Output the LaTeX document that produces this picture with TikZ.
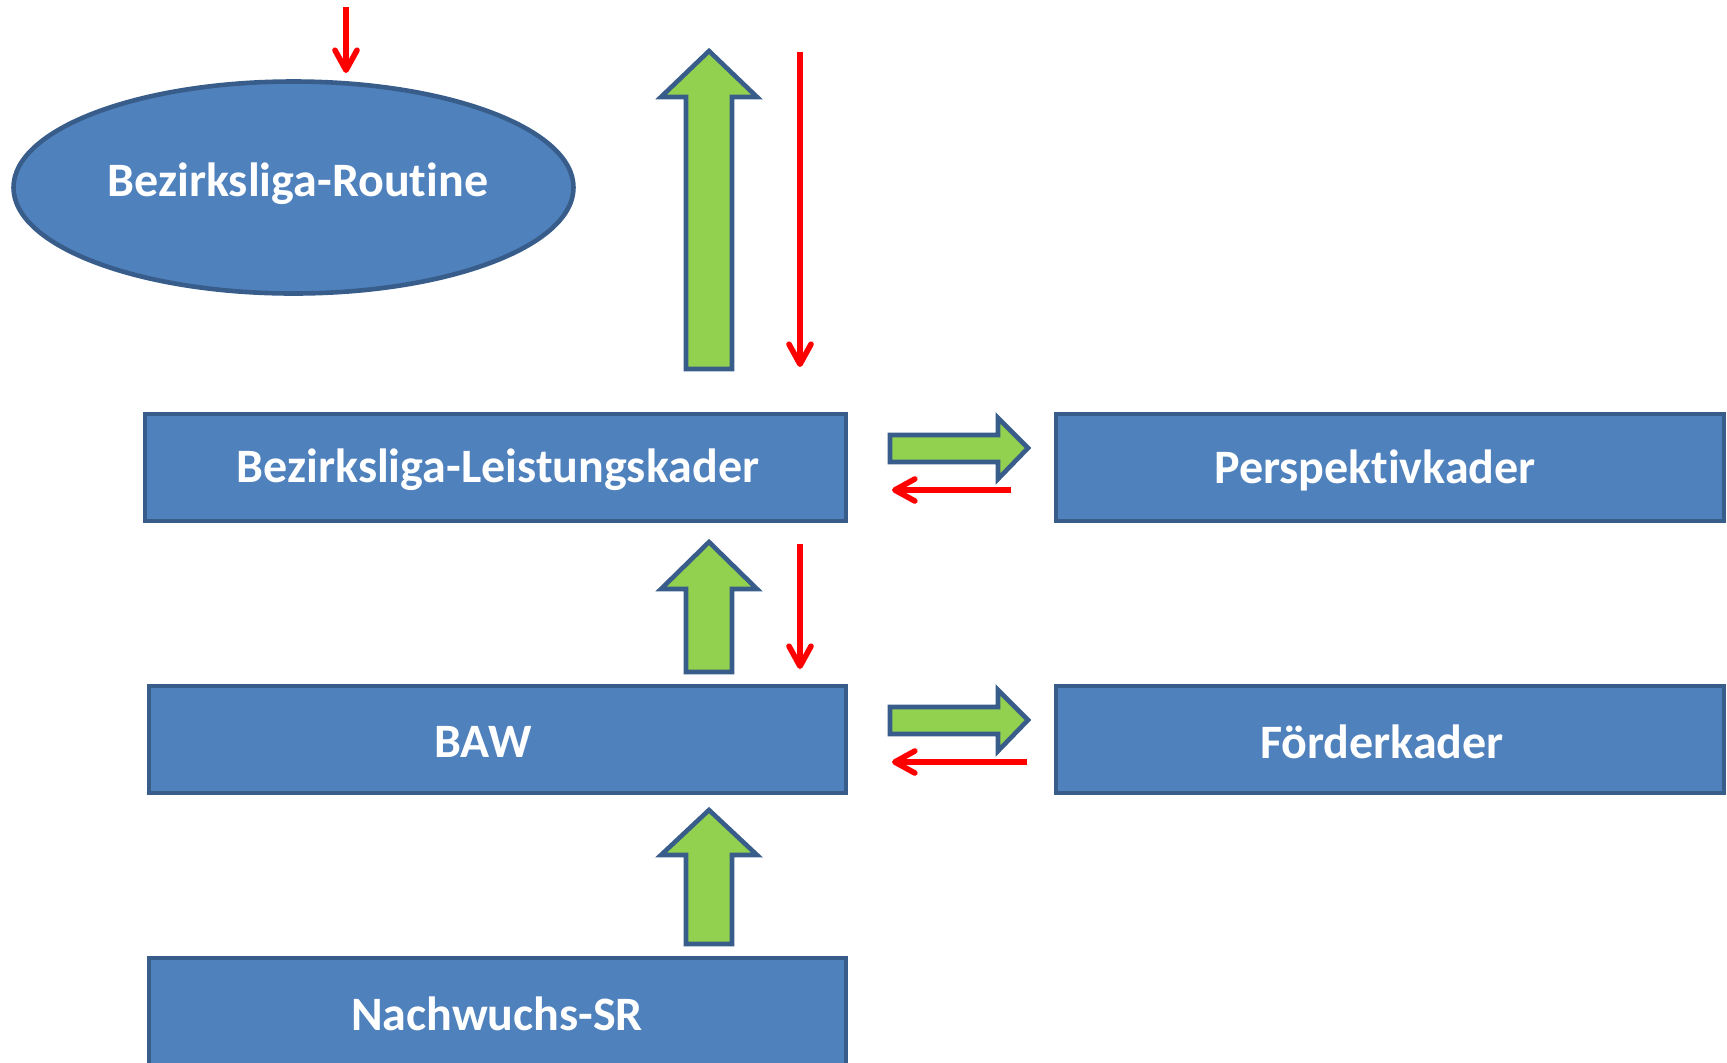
\documentclass[tikz,border=0pt]{standalone}
\usepackage{fontspec}
\setmainfont[Ligatures=NoCommon]{Carlito}
\usetikzlibrary{shapes.geometric,arrows.meta}
\definecolor{boxblue}{HTML}{4F81BD}
\definecolor{boxline}{HTML}{385D8A}
\definecolor{agreen}{HTML}{92D050}
\definecolor{ared}{HTML}{FF0000}
\tikzset{
  boxstyle/.style={draw=boxline, fill=boxblue, line width=2.3pt, text=white,
    font=\fontsize{24}{29}\selectfont\bfseries, inner sep=0pt, rectangle},
  boxtext/.style={text=white, font=\fontsize{24}{29}\selectfont\bfseries, inner sep=0pt},
  garrow/.style={draw=boxline, fill=agreen, line width=2.3pt, line join=miter},
  rarrow/.style={draw=ared, line width=2.8pt, -{Straight Barb[length=10pt,width=11pt,line width=2.8pt,round]}},
}
\newcommand\greenup[4]{%
  \draw[garrow] (#1-23,#2) -- (#1-23,#3) -- (#1-48,#3) -- (#1,#4) -- (#1+48,#3) -- (#1+23,#3) -- (#1+23,#2) -- cycle;}
\begin{document}
\begin{tikzpicture}[x=0.5pt,y=-0.5pt]
\useasboundingbox (0,0) rectangle (1727,1062);
% nodes
\node[boxstyle, ellipse, minimum width=280pt, minimum height=106pt] (routine) at (293.5,187.5) {};
\node[boxtext] (routinetxt) at (298,184) {Bezirksliga-Routine};
\node[boxstyle, minimum width=350.5pt, minimum height=53.5pt] (leist) at (495.5,467.5) {};
\node[boxtext] (leisttxt) at (498,470) {Bezirksliga-Leistungskader};
\node[boxstyle, minimum width=334pt, minimum height=53.5pt] (persp) at (1390,467.5) {};
\node[boxtext] (persptxt) at (1375,470) {Perspektivkader};
\node[boxstyle, minimum width=348.5pt, minimum height=53.5pt] (baw) at (497.5,739.5) {};
\node[boxtext] (bawtxt) at (483,742) {BAW};
\node[boxstyle, minimum width=334pt, minimum height=53.5pt] (foerd) at (1390,739.5) {};
\node[boxtext] (foerdtxt) at (1382,742) {Förderkader};
\node[boxstyle, minimum width=348.5pt, minimum height=53.5pt] (nach) at (497.5,1011.5) {};
\node[boxtext] (nachtxt) at (497,1014) {Nachwuchs-SR};
% green block arrows
\greenup{709}{369}{97}{51}
\greenup{709}{672}{589}{542}
\greenup{709}{944}{855}{810}
\draw[garrow] (890,435) -- (998,435) -- (998,418) -- (1028,448) -- (998,479) -- (998,462) -- (890,462) -- cycle;
\draw[garrow] (890,707) -- (998,707) -- (998,690) -- (1028,720) -- (998,751) -- (998,734) -- (890,734) -- cycle;
% red arrows
\coordinate (r1s) at (346,7);   \coordinate (r1e) at (346,73);
\coordinate (r2s) at (800,52);  \coordinate (r2e) at (800,367);
\coordinate (r3s) at (800,544); \coordinate (r3e) at (800,669);
\coordinate (r4s) at (1011,490); \coordinate (r4e) at (892,490);
\coordinate (r5s) at (1027,762); \coordinate (r5e) at (892,762);
\draw[rarrow] (r1s) -- (r1e);
\draw[rarrow] (r2s) -- (r2e);
\draw[rarrow] (r3s) -- (r3e);
\draw[rarrow] (r4s) -- (r4e);
\draw[rarrow] (r5s) -- (r5e);
\end{tikzpicture}
\end{document}
